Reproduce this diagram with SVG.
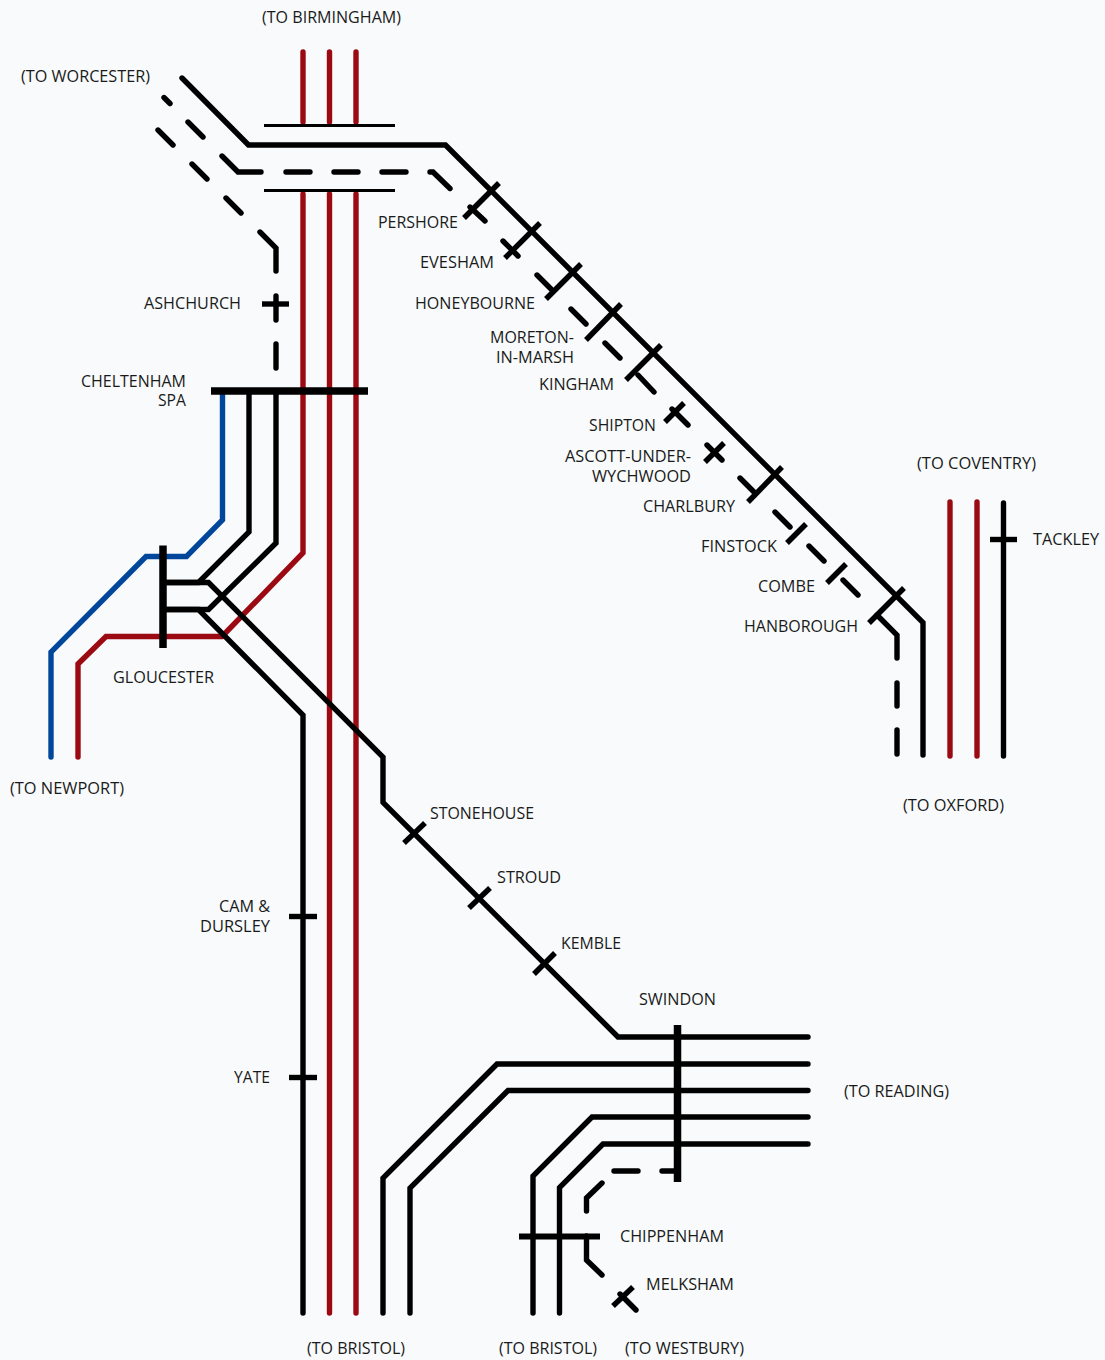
<svg xmlns="http://www.w3.org/2000/svg" width="1105" height="1360" viewBox="0 0 1105 1360">
<style>
.t{font-family:"Open Sans","Noto Sans","Liberation Sans",sans-serif;font-size:16.5px;fill:#1a1a1a}
.l{fill:none;stroke-width:5.4;stroke-linecap:round;stroke-linejoin:miter}
.k{stroke:#000}.r{stroke:#9b0a12}.b{stroke:#00479b}
.tick{fill:none;stroke:#000;stroke-width:5.4;stroke-linecap:butt}
.thin{fill:none;stroke:#000;stroke-width:3}
.bar{fill:none;stroke:#000;stroke-width:7.5;stroke-linecap:butt}
</style>
<rect width="1105" height="1360" fill="#f8fafc"/>
<g id="connectors">
<path class="l r" d="M303 52V122M329.5 52V122M356 52V122"/>
<path class="l r" d="M303 194V553L222 636.500H106L78 664V757M329.500 194V1313M356 194V1313"/>
<path class="l b" d="M222.500 391V520L186.500 556.500H146L51 652V757"/>
<path class="l k" d="M182 78L248.500 145H445.500L923 622.500V755"/>
<path class="l k" d="M249 391V532L198.500 582.500H163M276 391V543L208.500 609.500H163"/>
<path class="l k" d="M163 582.500H208.500L383 757V802.500L618 1037H808"/>
<path class="l k" d="M163 609.500H198.500L303 715V1313"/>
<path class="l k" d="M808 1064H497L383 1178V1313M808 1090.500H508L410 1188V1313M808 1117H592L533 1176V1313M808 1144H603L559.500 1187.500V1313"/>
<path class="l k" id="worcester-dashes" d="M164 97.500L170 103.500M188 122L203 137M222 156L238 172H261M286 172H310M334 172H358M382 172H406M430 172H433L450 188.500M470 207L485 221M503 241L518 256M537 275L551 289M571 309L586 324M605 343L620 358M638 375L654 392M672 409L688 425M707 445L722 460M740 478L755 493M775 512L790 527M809 546L824 561M843 580L858 595M877 615L897 635V658M897 683V706M897 730V754"/>
<path class="l k" id="ashchurch-dashes" d="M158 130L173 145M192 164L207 179M226 198L241 213M260 232L276 248V271M276 296V320M276 344V368"/>
<path class="l k" id="melksham-dashes" d="M676 1171H662M638 1171H614M602 1183L586.500 1198V1211M586.500 1236V1260L602 1275M620 1294L636 1310"/>
</g>
<g id="thin-bars"><path class="thin" d="M264 125.500H395M264 190.500H395"/></g>
<g id="node-cheltenham"><path class="bar" d="M211 391H368"/><text class="t" x="81" y="387" textLength="105" lengthAdjust="spacingAndGlyphs">CHELTENHAM</text><text class="t" x="158" y="406" textLength="28" lengthAdjust="spacingAndGlyphs">SPA</text></g>
<g id="node-gloucester"><path class="bar" d="M163 545.500V648"/><text class="t" x="113" y="683" textLength="101" lengthAdjust="spacingAndGlyphs">GLOUCESTER</text></g>
<g id="node-swindon"><path class="bar" d="M677.500 1025V1182"/><text class="t" x="639" y="1005" textLength="77" lengthAdjust="spacingAndGlyphs">SWINDON</text></g>
<g id="node-chippenham"><path class="tick" style="stroke-width:6" d="M519 1236.500H600"/><text class="t" x="620" y="1242" textLength="104" lengthAdjust="spacingAndGlyphs">CHIPPENHAM</text></g>
<g id="node-melksham"><path class="tick" d="M613 1306L633 1287"/><text class="t" x="646" y="1290" textLength="88" lengthAdjust="spacingAndGlyphs">MELKSHAM</text></g>
<g id="node-pershore"><path class="tick" d="M499 183L464 218"/><text class="t" x="378" y="228" textLength="80" lengthAdjust="spacingAndGlyphs">PERSHORE</text></g>
<g id="node-evesham"><path class="tick" d="M540 223L505 258"/><text class="t" x="420" y="268" textLength="74" lengthAdjust="spacingAndGlyphs">EVESHAM</text></g>
<g id="node-honeybourne"><path class="tick" d="M581 264L546 299"/><text class="t" x="415" y="309" textLength="120" lengthAdjust="spacingAndGlyphs">HONEYBOURNE</text></g>
<g id="node-moreton"><path class="tick" d="M621 304L586 340"/><text class="t" x="490" y="343" textLength="84" lengthAdjust="spacingAndGlyphs">MORETON-</text><text class="t" x="496" y="363" textLength="78" lengthAdjust="spacingAndGlyphs">IN-MARSH</text></g>
<g id="node-kingham"><path class="tick" d="M661 345L626 380"/><text class="t" x="539" y="390" textLength="75" lengthAdjust="spacingAndGlyphs">KINGHAM</text></g>
<g id="node-shipton"><path class="tick" d="M684 403L665 422"/><text class="t" x="589" y="431" textLength="67" lengthAdjust="spacingAndGlyphs">SHIPTON</text></g>
<g id="node-ascott"><path class="tick" d="M724 443L705 462"/><text class="t" x="565" y="462" textLength="126" lengthAdjust="spacingAndGlyphs">ASCOTT-UNDER-</text><text class="t" x="592" y="482" textLength="99" lengthAdjust="spacingAndGlyphs">WYCHWOOD</text></g>
<g id="node-charlbury"><path class="tick" d="M782 467L748 502"/><text class="t" x="643" y="512" textLength="92" lengthAdjust="spacingAndGlyphs">CHARLBURY</text></g>
<g id="node-finstock"><path class="tick" d="M806 524L787 543"/><text class="t" x="701" y="552" textLength="76" lengthAdjust="spacingAndGlyphs">FINSTOCK</text></g>
<g id="node-combe"><path class="tick" d="M846 564L827 583"/><text class="t" x="758" y="592" textLength="57" lengthAdjust="spacingAndGlyphs">COMBE</text></g>
<g id="node-hanborough"><path class="tick" d="M904 588L869 623"/><text class="t" x="744" y="632" textLength="114" lengthAdjust="spacingAndGlyphs">HANBOROUGH</text></g>
<g id="node-ashchurch"><path class="tick" d="M262 304H289"/><text class="t" x="144" y="309" textLength="97" lengthAdjust="spacingAndGlyphs">ASHCHURCH</text></g>
<g id="node-stonehouse"><path class="tick" d="M404 843L425 823"/><text class="t" x="430" y="819" textLength="104" lengthAdjust="spacingAndGlyphs">STONEHOUSE</text></g>
<g id="node-stroud"><path class="tick" d="M469 908L490 888"/><text class="t" x="497" y="883" textLength="64" lengthAdjust="spacingAndGlyphs">STROUD</text></g>
<g id="node-kemble"><path class="tick" d="M534 974L555 953"/><text class="t" x="561" y="949" textLength="60" lengthAdjust="spacingAndGlyphs">KEMBLE</text></g>
<g id="node-cam"><path class="tick" d="M289 916.500H317"/><text class="t" x="219" y="912" textLength="51" lengthAdjust="spacingAndGlyphs">CAM &amp;</text><text class="t" x="200" y="932" textLength="70" lengthAdjust="spacingAndGlyphs">DURSLEY</text></g>
<g id="node-yate"><path class="tick" d="M289 1077.500H317"/><text class="t" x="234" y="1083" textLength="36" lengthAdjust="spacingAndGlyphs">YATE</text></g>
<g id="node-tackley"><path class="l r" d="M950 502V756M977 502V756"/><path class="l k" d="M1003.500 503V756"/><path class="tick" d="M990 539.500H1017"/><text class="t" x="1033" y="545" textLength="66" lengthAdjust="spacingAndGlyphs">TACKLEY</text></g>
<g id="destinations">
<text class="t" x="262" y="23" textLength="139" lengthAdjust="spacingAndGlyphs">(TO BIRMINGHAM)</text>
<text class="t" x="21" y="82" textLength="129" lengthAdjust="spacingAndGlyphs">(TO WORCESTER)</text>
<text class="t" x="10" y="794" textLength="114" lengthAdjust="spacingAndGlyphs">(TO NEWPORT)</text>
<text class="t" x="917" y="469" textLength="119" lengthAdjust="spacingAndGlyphs">(TO COVENTRY)</text>
<text class="t" x="903" y="811" textLength="101" lengthAdjust="spacingAndGlyphs">(TO OXFORD)</text>
<text class="t" x="844" y="1097" textLength="105" lengthAdjust="spacingAndGlyphs">(TO READING)</text>
<text class="t" x="307" y="1354" textLength="98" lengthAdjust="spacingAndGlyphs">(TO BRISTOL)</text>
<text class="t" x="499" y="1354" textLength="98" lengthAdjust="spacingAndGlyphs">(TO BRISTOL)</text>
<text class="t" x="625" y="1354" textLength="119" lengthAdjust="spacingAndGlyphs">(TO WESTBURY)</text>
</g>
</svg>
